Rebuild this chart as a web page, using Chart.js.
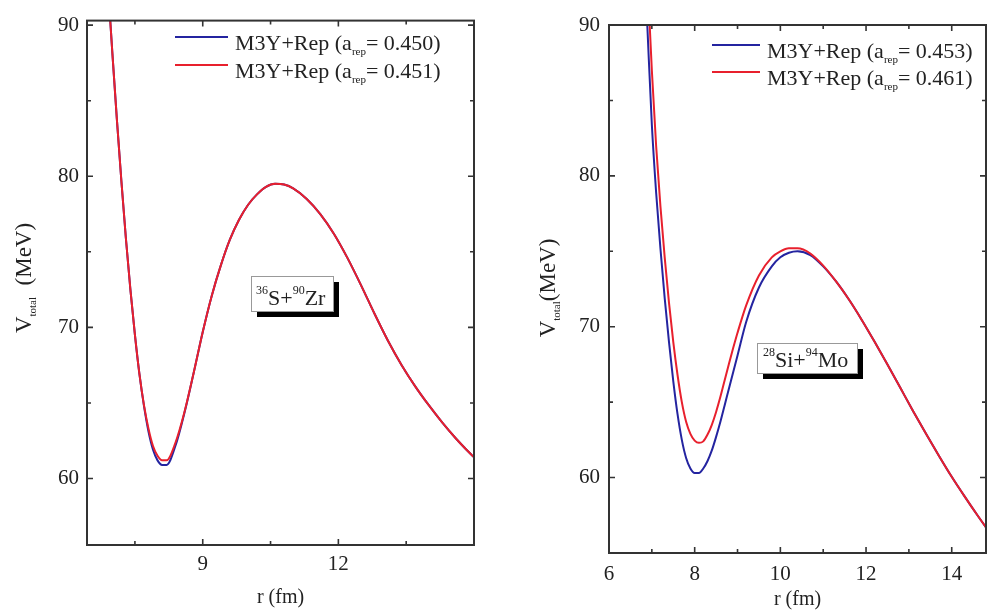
<!DOCTYPE html>
<html>
<head>
<meta charset="utf-8">
<script src="https://cdn.jsdelivr.net/npm/chart.js@4.4.1/dist/chart.umd.min.js"></script>
<style>
  html, body { margin: 0; padding: 0; background: #fff; }
  #wrap { position: relative; width: 987px; height: 612px; overflow: hidden; }
  canvas { position: absolute; top: 0; }
  #left { left: 0; }
  #right { left: 500px; }
</style>
</head>
<body>
<div id="wrap">
  <canvas id="left" width="500" height="612"></canvas>
  <canvas id="right" width="487" height="612"></canvas>
</div>
<script>
const SERIF = '"Liberation Serif", "Times New Roman", serif';
const BLUE = "rgb(36,36,160)";
const RED = "rgb(232,32,45)";

// 36S + 90Zr
const leftR = [6.9, 7.0, 7.1, 7.2, 7.3, 7.4, 7.5, 7.6, 7.7, 7.8,
    7.9, 8.0, 8.1, 8.2, 8.4, 8.6, 8.8, 9.0, 9.2, 9.4,
    9.6, 9.8, 10.0, 10.2, 10.4, 10.6, 10.8, 11.0, 11.3, 11.6,
    11.9, 12.2, 12.5, 12.8, 13.1, 13.4, 13.7, 14.0, 14.3, 14.6,
    14.9, 15.0];
const leftBlue = [92.8, 88.2, 83.8, 79.7, 75.9, 72.5, 69.5, 66.9, 64.8, 63.1,
    61.9, 61.2, 60.9, 60.9, 62.2, 64.4, 67.0, 69.7, 72.1, 74.1,
    75.8, 77.1, 78.1, 78.8, 79.3, 79.5, 79.45, 79.2, 78.5, 77.5,
    76.2, 74.6, 72.8, 70.9, 69.1, 67.5, 66.1, 64.85, 63.7, 62.65,
    61.7, 61.4];
const leftRed = [92.8, 88.2, 83.8, 79.7, 75.9, 72.5, 69.5, 66.9, 64.85, 63.3,
    62.15, 61.5, 61.2, 61.2, 62.4, 64.45, 67.0, 69.7, 72.1, 74.1,
    75.8, 77.1, 78.1, 78.8, 79.3, 79.5, 79.45, 79.2, 78.5, 77.5,
    76.2, 74.6, 72.8, 70.9, 69.1, 67.5, 66.1, 64.85, 63.7, 62.65,
    61.7, 61.4];
const leftXTicks = [9, 12];
const leftXMinor = [7.5, 10.5, 13.5];
const leftArep = ["0.450", "0.451"];

// 28Si + 94Mo
const rightR = [6.8, 6.9, 7.0, 7.1, 7.2, 7.3, 7.4, 7.5, 7.6, 7.7,
    7.8, 7.9, 8.0, 8.1, 8.2, 8.3, 8.4, 8.5, 8.6, 8.7,
    8.8, 8.9, 9.0, 9.2, 9.5, 9.8, 10.0, 10.2, 10.4, 10.7,
    11.0, 11.3, 11.6, 11.9, 12.2, 12.5, 12.8, 13.1, 13.4, 13.7,
    14.0, 14.3, 14.6, 14.9];
const rightBlue = [96.0, 89.6, 83.4, 78.9, 75.2, 71.9, 69.0, 66.4, 64.2, 62.5,
    61.3, 60.6, 60.3, 60.3, 60.6, 61.1, 61.8, 62.7, 63.7, 64.8,
    65.9, 67.0, 68.1, 70.3, 72.6, 74.0, 74.6, 74.9, 75.0, 74.75,
    74.0, 73.0, 71.8, 70.45, 69.0, 67.5, 65.95, 64.4, 62.9, 61.45,
    60.05, 58.75, 57.5, 56.3];
const rightRed = [99.0, 93.0, 87.0, 82.0, 78.0, 74.6, 71.6, 69.0, 66.8, 65.0,
    63.7, 62.9, 62.45, 62.3, 62.4, 62.85, 63.5, 64.35, 65.35, 66.45,
    67.55, 68.6, 69.6, 71.4, 73.4, 74.6, 75.0, 75.2, 75.2, 74.85,
    74.05, 73.0, 71.8, 70.45, 69.0, 67.5, 65.95, 64.4, 62.9, 61.45,
    60.05, 58.75, 57.5, 56.3];
const rightXTicks = [6, 8, 10, 12, 14];
const rightXMinor = [7, 9, 11, 13];
const rightArep = ["0.453", "0.461"];

const yTicks = [60, 70, 80, 90];
const yMinor = [65, 75, 85];

function pts(xs, ys) {
    return xs.map((x, i) => ({ x: x, y: ys[i] }));
}

// draws text pieces one after another (for sub/superscripts)
function drawParts(ctx, parts, x, y) {
    parts.forEach(p => {
        ctx.font = p.s + "px " + SERIF;
        ctx.fillText(p.t, x, y + (p.dy || 0));
        x += ctx.measureText(p.t).width;
    });
    return x;
}
function partsWidth(ctx, parts) {
    let w = 0;
    parts.forEach(p => {
        ctx.font = p.s + "px " + SERIF;
        w += ctx.measureText(p.t).width;
    });
    return w;
}

function makePanel(id, p) {
    const deco = {
        id: "deco",
        afterDatasetsDraw(chart) {
            const ctx = chart.ctx;
            const a = chart.chartArea;
            const xs = chart.scales.x, ys = chart.scales.y;
            ctx.save();
            ctx.strokeStyle = "#333";
            ctx.lineWidth = 2;
            ctx.strokeRect(a.left, a.top, a.right - a.left, a.bottom - a.top);

            ctx.lineWidth = 1.6;
            ctx.beginPath();
            const tickX = (v, len) => {
                const px = xs.getPixelForValue(v);
                ctx.moveTo(px, a.bottom); ctx.lineTo(px, a.bottom - len);
                ctx.moveTo(px, a.top); ctx.lineTo(px, a.top + len);
            };
            const tickY = (v, len) => {
                const py = ys.getPixelForValue(v);
                ctx.moveTo(a.left, py); ctx.lineTo(a.left + len, py);
                ctx.moveTo(a.right, py); ctx.lineTo(a.right - len, py);
            };
            p.xTicks.forEach(v => tickX(v, 6));
            p.xMinor.forEach(v => tickX(v, 4));
            yTicks.forEach(v => tickY(v, 6));
            yMinor.forEach(v => tickY(v, 4));
            ctx.stroke();

            // legend
            ctx.fillStyle = "#222";
            ctx.textBaseline = "alphabetic";
            chart.data.datasets.forEach((ds, i) => {
                const ly = p.legY[i];
                ctx.strokeStyle = ds.borderColor;
                ctx.lineWidth = 2;
                ctx.beginPath();
                ctx.moveTo(p.legX[0], ly);
                ctx.lineTo(p.legX[1], ly);
                ctx.stroke();
                drawParts(ctx, [
                    { t: "M3Y+Rep (a", s: 22 },
                    { t: "rep", s: 11, dy: 5 },
                    { t: "= " + p.arep[i] + ")", s: 22 }
                ], p.legX[2], ly + 12.5);
            });

            // reaction label box with shadow
            const b = p.box;
            ctx.fillStyle = "#000";
            ctx.fillRect(b.x + 6, b.y + 6, b.w, b.h);
            ctx.fillStyle = "#fff";
            ctx.fillRect(b.x, b.y, b.w, b.h);
            ctx.strokeStyle = "#999";
            ctx.lineWidth = 1;
            ctx.strokeRect(b.x + 0.5, b.y + 0.5, b.w, b.h);
            ctx.fillStyle = "#222";
            drawParts(ctx, p.reaction, b.x + b.pad, b.y + b.h - 6);

            // y title
            const tp = [
                { t: "V", s: 23 },
                { t: "total", s: 11, dy: 5 },
                { t: p.yGap + "(MeV)", s: 23 }
            ];
            const w = partsWidth(ctx, tp);
            ctx.translate(p.yTitle[0], p.yTitle[1]);
            ctx.rotate(-Math.PI / 2);
            drawParts(ctx, tp, -w / 2, 7);
            ctx.restore();
        }
    };

    return new Chart(document.getElementById(id), {
        type: "line",
        data: {
            datasets: [
                { data: pts(p.r, p.blue), borderColor: BLUE, borderWidth: 2, order: 1 },
                { data: pts(p.r, p.red), borderColor: RED, borderWidth: 2, order: 0 }
            ]
        },
        options: {
            responsive: false,
            animation: false,
            devicePixelRatio: 1,
            layout: { padding: p.pad },
            elements: {
                point: { radius: 0 },
                line: { cubicInterpolationMode: "monotone", fill: false }
            },
            plugins: { legend: { display: false }, tooltip: { enabled: false } },
            scales: {
                x: {
                    type: "linear",
                    min: p.xMin, max: p.xMax,
                    afterBuildTicks: s => { s.ticks = p.xTicks.map(v => ({ value: v })); },
                    afterFit: s => { s.height = p.xH; },
                    grid: { display: false, drawTicks: false },
                    border: { display: false },
                    ticks: { padding: p.xPad, maxRotation: 0, autoSkip: false, color: "#222",
                        font: { family: SERIF, size: 21 } },
                    title: { display: true, text: "r (fm)", color: "#222",
                        font: { family: SERIF, size: 20 }, padding: { top: 0, bottom: p.xTitlePad } }
                },
                y: {
                    min: p.yMin, max: p.yMax,
                    afterBuildTicks: s => { s.ticks = yTicks.map(v => ({ value: v })); },
                    afterFit: s => { s.width = p.yW; },
                    grid: { display: false, drawTicks: false },
                    border: { display: false },
                    ticks: { padding: p.yPad, color: "#222", font: { family: SERIF, size: 21 } }
                }
            }
        },
        plugins: [deco]
    });
}

makePanel("left", {
    r: leftR, blue: leftBlue, red: leftRed, arep: leftArep,
    xTicks: leftXTicks, xMinor: leftXMinor,
    xMin: 6.44, xMax: 15.0, yMin: 55.6, yMax: 90.3,
    pad: { left: 0, right: 26, top: 16, bottom: 0 },
    xH: 67, yW: 87, xPad: 7, yPad: 8, xTitlePad: 2,
    legX: [175, 228, 235], legY: [37, 65],
    box: { x: 251, y: 276, w: 82, h: 35, pad: 5 },
    reaction: [
        { t: "36", s: 12, dy: -11 }, { t: "S+", s: 22 },
        { t: "90", s: 12, dy: -11 }, { t: "Zr", s: 22 }
    ],
    yTitle: [24, 278], yGap: "  "
});

makePanel("right", {
    r: rightR, blue: rightBlue, red: rightRed, arep: rightArep,
    xTicks: rightXTicks, xMinor: rightXMinor,
    xMin: 6, xMax: 14.8, yMin: 55, yMax: 90,
    pad: { left: 0, right: 1, top: 25, bottom: 0 },
    xH: 59, yW: 109, xPad: 9, yPad: 9, xTitlePad: 0,
    legX: [212, 260, 267], legY: [45, 72],
    box: { x: 257, y: 343, w: 100, h: 30, pad: 6 },
    reaction: [
        { t: "28", s: 12, dy: -11 }, { t: "Si+", s: 22 },
        { t: "94", s: 12, dy: -11 }, { t: "Mo", s: 22 }
    ],
    yTitle: [48, 288], yGap: ""
});
</script>
</body>
</html>
